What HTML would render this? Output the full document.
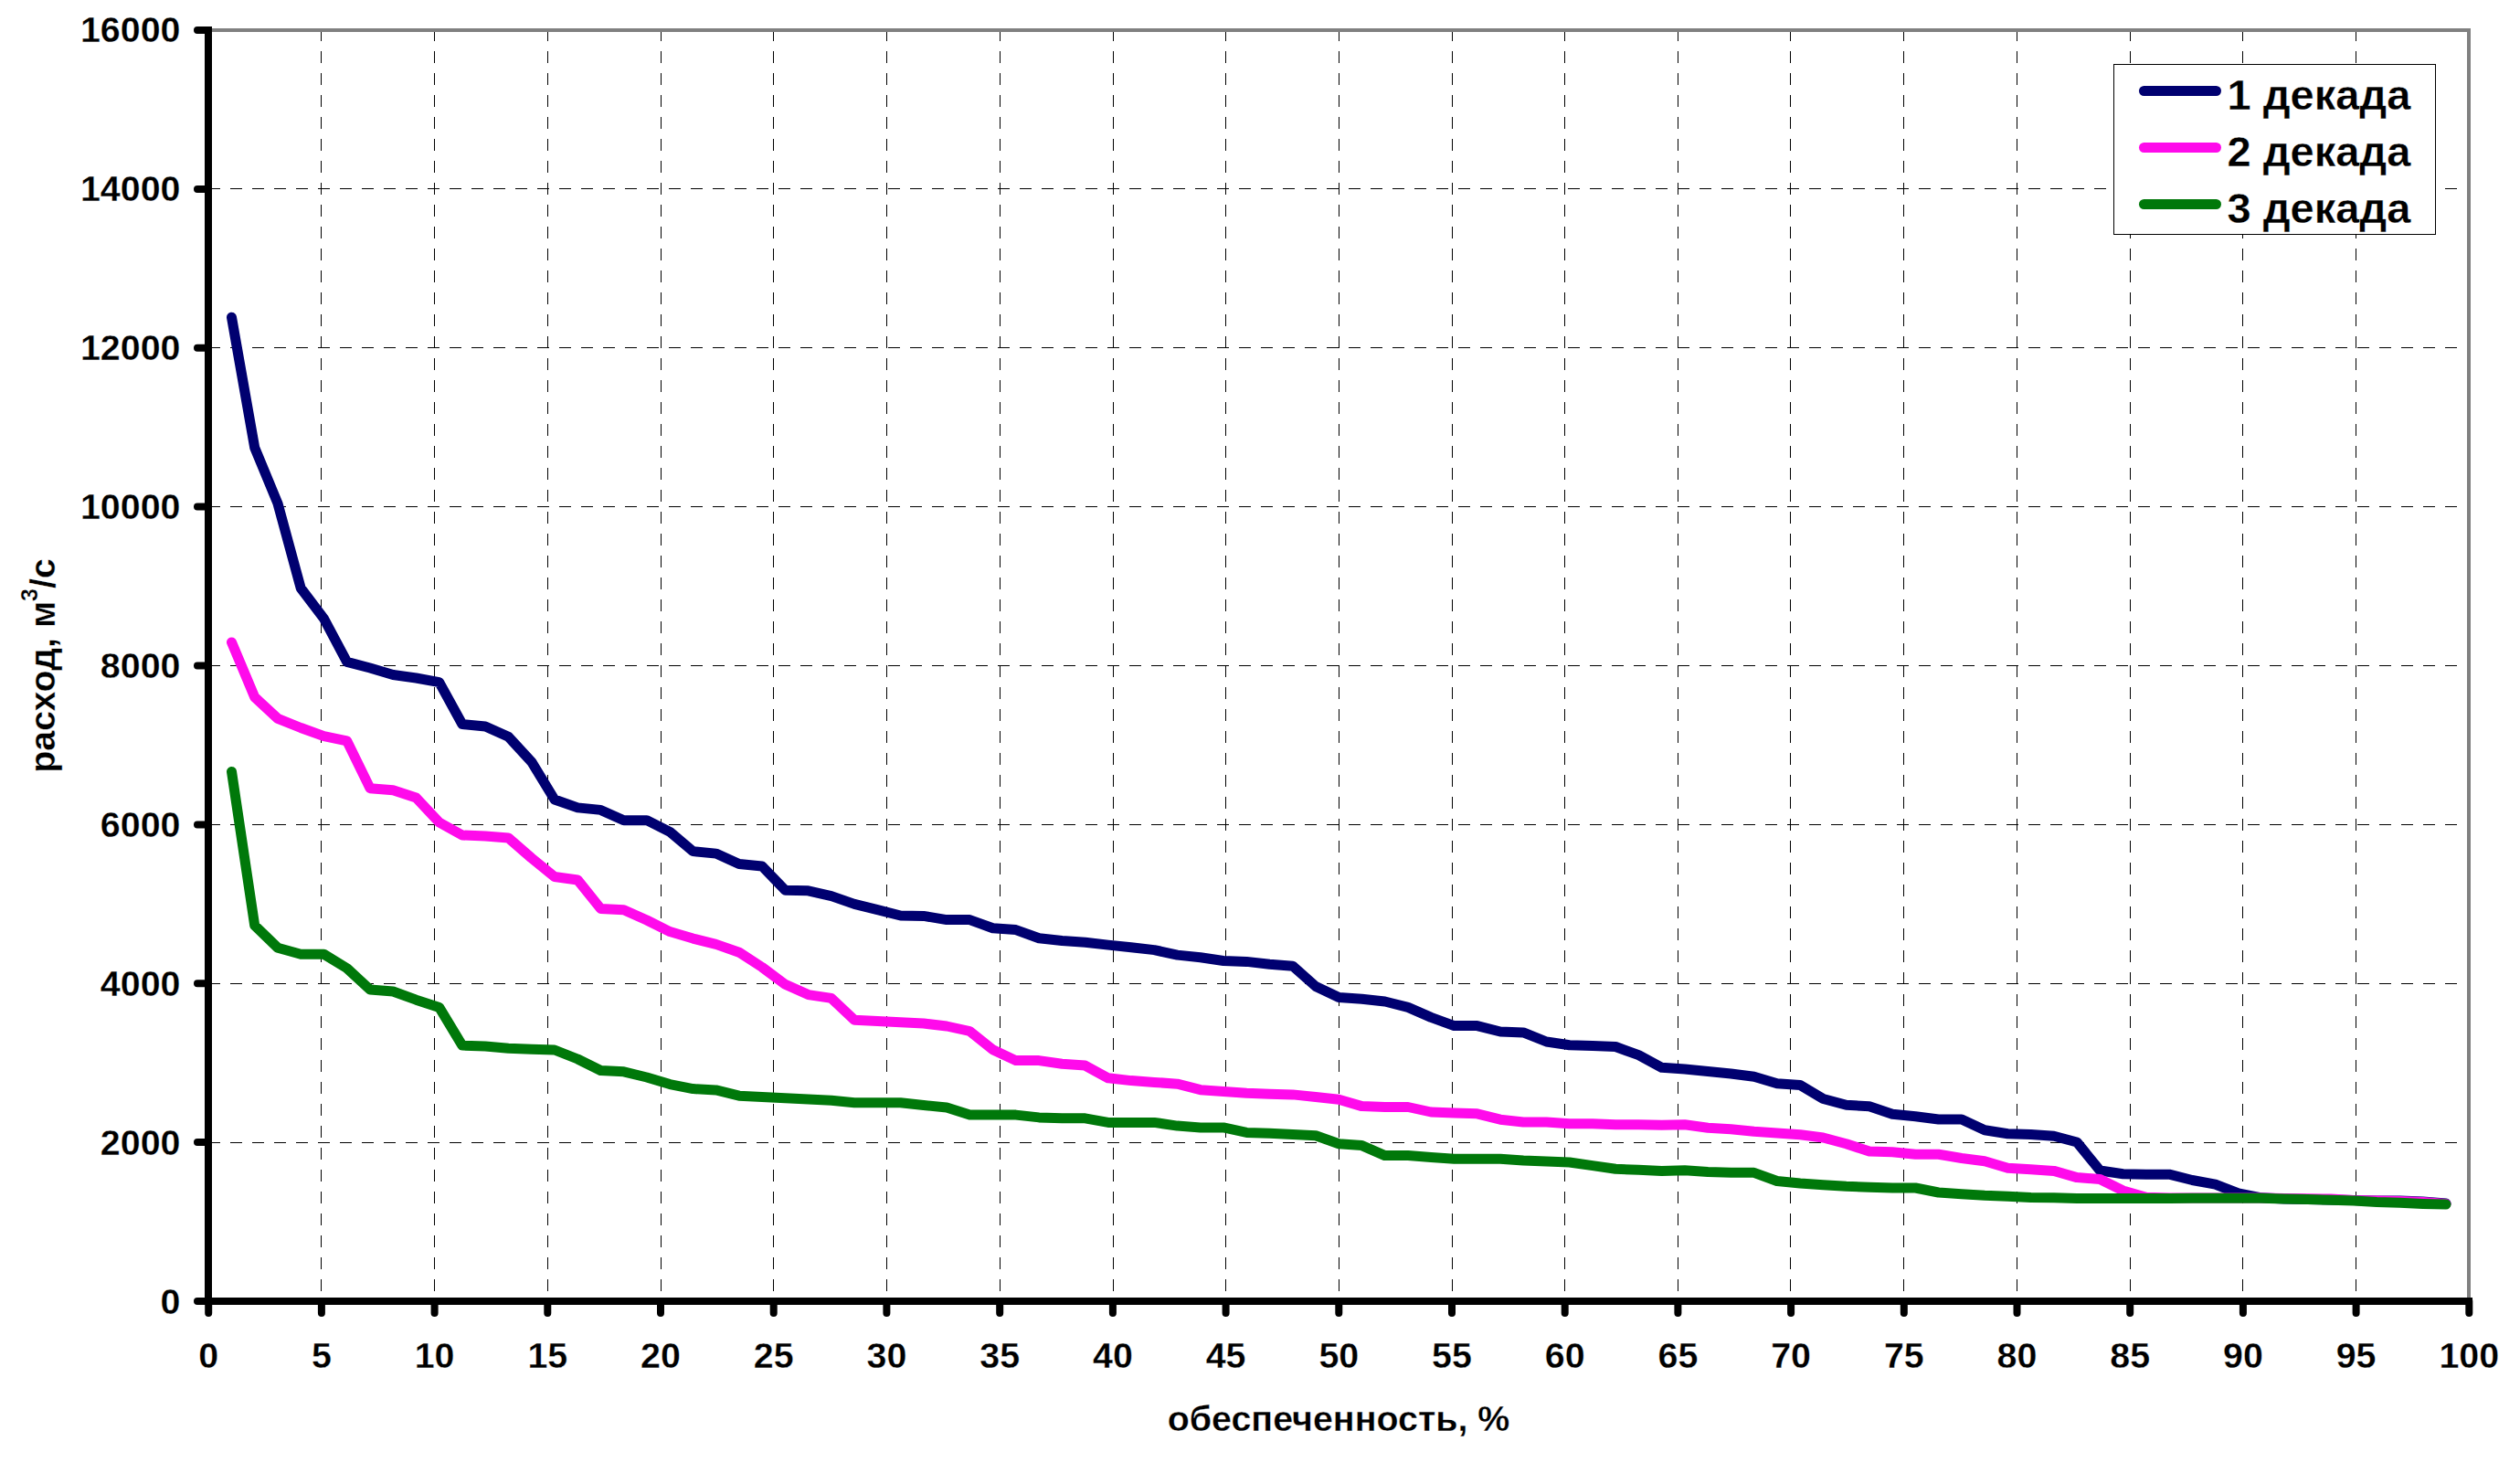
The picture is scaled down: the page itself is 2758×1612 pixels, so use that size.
<!DOCTYPE html>
<html><head><meta charset="utf-8"><title>chart</title>
<style>
html,body{margin:0;padding:0;background:#fff;}
body{width:2758px;height:1612px;overflow:hidden;}
svg{display:block;}
text{font-family:"Liberation Sans", sans-serif;font-weight:bold;fill:#000;stroke:#fff;stroke-width:0.3px;paint-order:fill;}
</style></head><body>
<svg width="2758" height="1612" viewBox="0 0 2758 1612">
<rect x="0" y="0" width="2758" height="1612" fill="#fff"/>
<path d="M228 1250.5 H2700 M228 1076.5 H2700 M228 902.5 H2700 M228 728.5 H2700 M228 554.5 H2700 M228 380.5 H2700 M228 206.5 H2700" stroke="#000" stroke-width="1" stroke-dasharray="13 11" fill="none" shape-rendering="crispEdges"/>
<path d="M351.5 32 V1420 M475.5 32 V1420 M599.5 32 V1420 M723.5 32 V1420 M846.5 32 V1420 M970.5 32 V1420 M1094.5 32 V1420 M1218.5 32 V1420 M1341.5 32 V1420 M1465.5 32 V1420 M1589.5 32 V1420 M1712.5 32 V1420 M1836.5 32 V1420 M1959.5 32 V1420 M2083.5 32 V1420 M2207.5 32 V1420 M2331.5 32 V1420 M2454.5 32 V1420 M2578.5 32 V1420" stroke="#000" stroke-width="1" stroke-dasharray="13 11" fill="none" shape-rendering="crispEdges"/>
<path d="M228 33.0 H2702 V1424.0" stroke="#808080" stroke-width="4" fill="none"/>
<path d="M228 29.0 V1424.0 H2706" stroke="#000" stroke-width="8" fill="none" stroke-linejoin="miter" stroke-linecap="butt"/>
<path d="M216 1424.0 H228 M216 1250.1 H228 M216 1076.2 H228 M216 902.4 H228 M216 728.5 H228 M216 554.6 H228 M216 380.8 H228 M216 206.9 H228 M216 33.0 H228 M228.2 1424.0 V1437.0 M351.9 1424.0 V1437.0 M475.6 1424.0 V1437.0 M599.3 1424.0 V1437.0 M723.0 1424.0 V1437.0 M846.7 1424.0 V1437.0 M970.4 1424.0 V1437.0 M1094.2 1424.0 V1437.0 M1217.9 1424.0 V1437.0 M1341.6 1424.0 V1437.0 M1465.3 1424.0 V1437.0 M1589.0 1424.0 V1437.0 M1712.7 1424.0 V1437.0 M1836.4 1424.0 V1437.0 M1960.1 1424.0 V1437.0 M2083.8 1424.0 V1437.0 M2207.5 1424.0 V1437.0 M2331.2 1424.0 V1437.0 M2454.9 1424.0 V1437.0 M2578.6 1424.0 V1437.0 M2702.3 1424.0 V1437.0" stroke="#000" stroke-width="8" fill="none" stroke-linecap="round"/>
<polyline points="253.5,347.2 278.7,489.8 304.0,551.0 329.2,643.6 354.5,677.0 379.7,724.4 405.0,731.0 430.2,738.5 455.4,742.0 480.7,746.6 505.9,792.5 531.2,795.0 556.4,806.2 581.7,833.7 606.9,875.0 632.2,883.9 657.4,886.4 682.7,897.7 707.9,897.7 733.1,910.3 758.4,931.6 783.6,934.1 808.9,945.5 834.1,948.0 859.4,974.3 884.6,974.8 909.9,980.6 935.1,989.4 960.4,995.7 985.6,1002.0 1010.8,1002.4 1036.1,1006.6 1061.3,1006.6 1086.6,1015.7 1111.8,1017.6 1137.1,1026.7 1162.3,1029.5 1187.6,1031.3 1212.8,1034.1 1238.0,1036.8 1263.3,1039.6 1288.5,1045.1 1313.8,1047.8 1339.0,1051.5 1364.3,1052.4 1389.5,1055.2 1414.8,1057.2 1440.0,1079.5 1465.3,1091.4 1490.5,1093.2 1515.7,1096.0 1541.0,1102.4 1566.2,1113.4 1591.5,1122.6 1616.7,1122.6 1642.0,1129.0 1667.2,1129.9 1692.5,1140.0 1717.7,1143.7 1743.0,1144.6 1768.2,1145.5 1793.4,1154.7 1818.7,1168.3 1843.9,1170.0 1869.2,1172.5 1894.4,1175.0 1919.7,1178.3 1944.9,1185.8 1970.2,1187.5 1995.4,1202.5 2020.6,1209.2 2045.9,1210.8 2071.1,1219.2 2096.4,1221.7 2121.6,1225.0 2146.9,1225.0 2172.1,1236.7 2197.4,1240.8 2222.6,1241.5 2247.9,1243.3 2273.1,1250.0 2298.3,1281.0 2323.6,1284.8 2348.8,1285.2 2374.1,1285.2 2399.3,1291.5 2424.6,1296.2 2449.8,1306.0 2475.1,1310.8 2500.3,1312.0 2525.6,1312.5 2550.8,1313.0 2576.0,1313.5 2601.3,1313.9 2626.5,1314.0 2651.8,1315.0 2677.0,1317.0" fill="none" stroke="#000070" stroke-width="11" stroke-linejoin="round" stroke-linecap="round"/>
<polyline points="253.5,702.9 278.7,762.9 304.0,786.4 329.2,796.5 354.5,805.7 379.7,810.8 405.0,862.7 430.2,864.8 455.4,872.9 480.7,900.0 505.9,914.0 531.2,915.0 556.4,917.0 581.7,939.0 606.9,959.5 632.2,963.0 657.4,994.4 682.7,995.7 707.9,1007.0 733.1,1019.6 758.4,1027.1 783.6,1033.4 808.9,1042.2 834.1,1058.5 859.4,1077.3 884.6,1088.6 909.9,1092.4 935.1,1116.3 960.4,1117.5 985.6,1118.8 1010.8,1120.0 1036.1,1123.0 1061.3,1128.5 1086.6,1148.7 1111.8,1160.6 1137.1,1160.6 1162.3,1164.2 1187.6,1166.1 1212.8,1179.8 1238.0,1182.6 1263.3,1184.4 1288.5,1186.2 1313.8,1192.7 1339.0,1194.5 1364.3,1196.3 1389.5,1197.2 1414.8,1197.9 1440.0,1200.5 1465.3,1203.2 1490.5,1210.6 1515.7,1211.5 1541.0,1211.5 1566.2,1217.0 1591.5,1217.9 1616.7,1218.8 1642.0,1225.2 1667.2,1228.0 1692.5,1228.0 1717.7,1229.8 1743.0,1229.8 1768.2,1230.7 1793.4,1230.7 1818.7,1231.2 1843.9,1230.8 1869.2,1234.2 1894.4,1235.8 1919.7,1238.3 1944.9,1240.0 1970.2,1241.7 1995.4,1245.0 2020.6,1251.7 2045.9,1260.0 2071.1,1260.8 2096.4,1263.3 2121.6,1263.3 2146.9,1267.5 2172.1,1270.8 2197.4,1278.3 2222.6,1279.8 2247.9,1281.4 2273.1,1288.6 2298.3,1290.5 2323.6,1303.0 2348.8,1310.3 2374.1,1311.0 2399.3,1311.0 2424.6,1311.0 2449.8,1311.0 2475.1,1311.0 2500.3,1311.4 2525.6,1311.7 2550.8,1312.1 2576.0,1313.5 2601.3,1314.0 2626.5,1314.5 2651.8,1315.5 2677.0,1317.5" fill="none" stroke="#FF0AEB" stroke-width="11" stroke-linejoin="round" stroke-linecap="round"/>
<polyline points="253.5,844.4 278.7,1012.7 304.0,1037.2 329.2,1044.3 354.5,1044.3 379.7,1059.6 405.0,1083.0 430.2,1085.0 455.4,1094.2 480.7,1102.4 505.9,1144.1 531.2,1145.1 556.4,1147.2 581.7,1148.2 606.9,1149.0 632.2,1159.0 657.4,1171.5 682.7,1172.8 707.9,1179.0 733.1,1186.6 758.4,1191.6 783.6,1192.9 808.9,1199.2 834.1,1200.4 859.4,1201.7 884.6,1202.9 909.9,1204.2 935.1,1206.7 960.4,1206.7 985.6,1206.7 1010.8,1209.5 1036.1,1211.9 1061.3,1220.1 1086.6,1220.1 1111.8,1220.1 1137.1,1222.9 1162.3,1223.8 1187.6,1223.8 1212.8,1228.4 1238.0,1228.4 1263.3,1228.4 1288.5,1232.1 1313.8,1233.9 1339.0,1233.9 1364.3,1239.4 1389.5,1240.3 1414.8,1241.5 1440.0,1242.7 1465.3,1251.8 1490.5,1253.6 1515.7,1264.6 1541.0,1264.6 1566.2,1266.5 1591.5,1268.3 1616.7,1268.3 1642.0,1268.3 1667.2,1270.1 1692.5,1271.1 1717.7,1272.0 1743.0,1275.6 1768.2,1279.3 1793.4,1280.2 1818.7,1281.5 1843.9,1280.8 1869.2,1282.5 1894.4,1283.3 1919.7,1283.3 1944.9,1292.5 1970.2,1295.0 1995.4,1296.7 2020.6,1298.3 2045.9,1299.2 2071.1,1300.0 2096.4,1300.0 2121.6,1305.0 2146.9,1306.7 2172.1,1308.3 2197.4,1309.2 2222.6,1310.5 2247.9,1310.8 2273.1,1311.4 2298.3,1311.4 2323.6,1311.4 2348.8,1311.4 2374.1,1311.4 2399.3,1311.3 2424.6,1311.3 2449.8,1311.3 2475.1,1311.3 2500.3,1312.0 2525.6,1312.6 2550.8,1313.3 2576.0,1314.0 2601.3,1315.5 2626.5,1316.3 2651.8,1317.4 2677.0,1318.0" fill="none" stroke="#00780A" stroke-width="11" stroke-linejoin="round" stroke-linecap="round"/>
<text x="197.5" y="1437.7" font-size="39.4" text-anchor="end">0</text>
<text x="197.5" y="1263.7" font-size="39.4" text-anchor="end">2000</text>
<text x="197.5" y="1089.7" font-size="39.4" text-anchor="end">4000</text>
<text x="197.5" y="915.7" font-size="39.4" text-anchor="end">6000</text>
<text x="197.5" y="741.7" font-size="39.4" text-anchor="end">8000</text>
<text x="197.5" y="567.6" font-size="39.4" text-anchor="end">10000</text>
<text x="197.5" y="393.6" font-size="39.4" text-anchor="end">12000</text>
<text x="197.5" y="219.6" font-size="39.4" text-anchor="end">14000</text>
<text x="197.5" y="45.6" font-size="39.4" text-anchor="end">16000</text>
<text x="228.2" y="1497" font-size="39.4" text-anchor="middle">0</text>
<text x="351.9" y="1497" font-size="39.4" text-anchor="middle">5</text>
<text x="475.6" y="1497" font-size="39.4" text-anchor="middle">10</text>
<text x="599.3" y="1497" font-size="39.4" text-anchor="middle">15</text>
<text x="723.0" y="1497" font-size="39.4" text-anchor="middle">20</text>
<text x="846.7" y="1497" font-size="39.4" text-anchor="middle">25</text>
<text x="970.4" y="1497" font-size="39.4" text-anchor="middle">30</text>
<text x="1094.2" y="1497" font-size="39.4" text-anchor="middle">35</text>
<text x="1217.9" y="1497" font-size="39.4" text-anchor="middle">40</text>
<text x="1341.6" y="1497" font-size="39.4" text-anchor="middle">45</text>
<text x="1465.3" y="1497" font-size="39.4" text-anchor="middle">50</text>
<text x="1589.0" y="1497" font-size="39.4" text-anchor="middle">55</text>
<text x="1712.7" y="1497" font-size="39.4" text-anchor="middle">60</text>
<text x="1836.4" y="1497" font-size="39.4" text-anchor="middle">65</text>
<text x="1960.1" y="1497" font-size="39.4" text-anchor="middle">70</text>
<text x="2083.8" y="1497" font-size="39.4" text-anchor="middle">75</text>
<text x="2207.5" y="1497" font-size="39.4" text-anchor="middle">80</text>
<text x="2331.2" y="1497" font-size="39.4" text-anchor="middle">85</text>
<text x="2454.9" y="1497" font-size="39.4" text-anchor="middle">90</text>
<text x="2578.6" y="1497" font-size="39.4" text-anchor="middle">95</text>
<text x="2702.3" y="1497" font-size="39.4" text-anchor="middle">100</text>
<text x="1465" y="1566.4" font-size="39.4" text-anchor="middle">обеспеченность, %</text>
<text transform="translate(60,728.5) rotate(-90)" font-size="39.4" text-anchor="middle">расход, м<tspan dy="-19" font-size="25">3</tspan><tspan dy="19">/с</tspan></text>
<rect x="2313.5" y="70.5" width="352" height="186" fill="#fff" stroke="#000" stroke-width="1.3" shape-rendering="crispEdges"/>
<line x1="2346.5" y1="99.5" x2="2425.5" y2="99.5" stroke="#000070" stroke-width="11" stroke-linecap="round"/>
<text x="2437.5" y="119.8" font-size="47">1 декада</text>
<line x1="2346.5" y1="161.5" x2="2425.5" y2="161.5" stroke="#FF0AEB" stroke-width="11" stroke-linecap="round"/>
<text x="2437.5" y="181.8" font-size="47">2 декада</text>
<line x1="2346.5" y1="223.5" x2="2425.5" y2="223.5" stroke="#00780A" stroke-width="11" stroke-linecap="round"/>
<text x="2437.5" y="243.8" font-size="47">3 декада</text>
</svg>
</body></html>
